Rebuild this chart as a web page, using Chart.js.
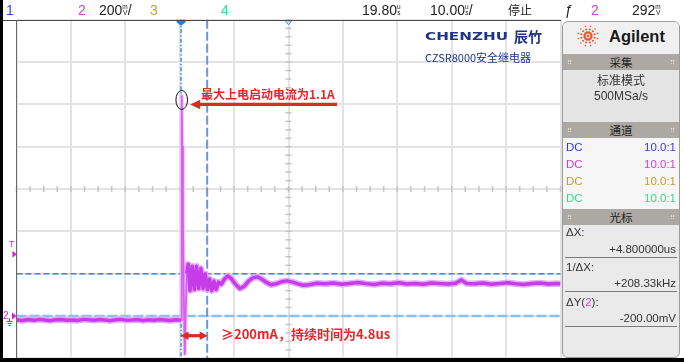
<!DOCTYPE html>
<html><head><meta charset="utf-8">
<script src="https://cdn.jsdelivr.net/npm/chart.js@4.4.1/dist/chart.umd.min.js"></script>
<style>
html,body{margin:0;padding:0;width:684px;height:362px;overflow:hidden;background:#fff;}
body{font-family:"Liberation Sans",Arial,sans-serif;position:relative;}
#c{position:absolute;left:0;top:0;z-index:1;}
.ov{position:absolute;z-index:2;white-space:nowrap;}
#bar span{position:absolute;top:2px;font-size:14px;line-height:16px;color:#222;}
#bar i{display:inline-block;font-style:normal;font-size:6.5px;line-height:6px;text-align:center;vertical-align:top;margin-top:2px;}
.cjk{font-family:"Noto Sans CJK SC",sans-serif;}
#panel{position:absolute;left:562px;top:21px;width:118px;height:337px;box-sizing:border-box;border:1px solid #9c9c9c;border-radius:6px;background:#eaeaea;z-index:2;overflow:hidden;}
#panel div{position:absolute;white-space:nowrap;}
.hdr{left:0;width:116px;height:16px;background:#aca8a4;text-align:center;font-size:11.5px;line-height:16px;color:#222;font-family:"Noto Sans CJK SC",sans-serif;}
.grip{position:absolute;top:0;font-size:7px;color:#e0ddd9;line-height:16px;}
.t{font-size:11.5px;line-height:14px;color:#333;}
.r{right:3px;text-align:right;}
.sep{left:2px;width:112px;height:0;border-top:1.5px solid #7a7a7a;}
</style></head>
<body>
<canvas id="c" width="684" height="362"></canvas>

<!-- outer frame -->
<div class="ov" style="left:0;top:0;width:3px;height:362px;background:#000;"></div>
<div class="ov" style="left:0;top:358px;width:684px;height:4px;background:#000;"></div>
<div class="ov" style="left:3px;top:19.5px;width:558px;height:1.5px;background:#4a4a4a;"></div>
<div class="ov" style="left:15.8px;top:20px;width:1.5px;height:338px;background:#6a6a6a;"></div>

<!-- status bar -->
<div id="bar" class="ov" style="left:0;top:0;width:684px;height:19px;">
 <span style="left:6px;color:#3c3cff">1</span>
 <span style="left:78px;color:#d83ae0">2</span>
 <span style="left:99px">200<i>m<br>V</i>/</span>
 <span style="left:150px;color:#c9a23c">3</span>
 <span style="left:221px;color:#36dc8a">4</span>
 <span style="left:362px">19.80<i>u<br>s</i></span>
 <span style="left:430px">10.00<i>u<br>s</i>/</span>
 <span class="cjk" style="left:508px;font-size:12px">停止</span>
 <span style="left:565px">ƒ</span>
 <span style="left:591px;color:#d83ae0">2</span>
 <span style="left:632px">292<i>m<br>V</i></span>
</div>

<!-- left channel markers -->
<div class="ov" style="left:9px;top:239px;font-size:9px;line-height:10px;color:#d21ed2;">T</div>
<div class="ov" style="left:3px;top:310px;font-size:10px;line-height:12px;color:#d21ed2;">2</div>

<!-- logo -->
<div class="ov" style="left:425px;top:30px;font-size:11px;line-height:13px;font-weight:bold;color:#1d3588;font-family:'DejaVu Sans',sans-serif;"><span style="display:inline-block;transform:scaleX(1.38);transform-origin:left;">CHENZHU</span></div>
<div class="ov cjk" style="left:514px;top:28px;font-size:14px;line-height:16px;font-weight:bold;color:#1d3588;">辰竹</div>
<div class="ov cjk" style="left:425px;top:50px;font-size:11px;line-height:14px;color:#1d3588;">CZSR8000安全继电器</div>

<!-- annotations -->
<div class="ov cjk" style="left:201px;top:86px;font-size:12px;line-height:16px;font-weight:bold;color:#e8262a;">最大上电启动电流为1.1A</div>
<div class="ov cjk" style="left:221px;top:326px;font-size:13px;line-height:16px;font-weight:bold;color:#e8262a;">≥200mA，持续时间为4.8us</div>

<!-- right panel -->
<div id="panel">
 <div style="left:0;top:0;width:116px;height:32px;background:#f0f0f0;"></div>
 <div style="left:13px;top:2px;"><svg id="spark" width="24" height="24" viewBox="-12 -12 24 24"></svg></div>
 <div style="left:46px;top:4px;font-size:16.5px;line-height:20px;font-weight:bold;color:#1a1a1a;">Agilent</div>
 <div class="hdr" style="top:32px;"><span class="grip" style="left:4px">⠿</span>采集<span class="grip" style="right:4px">⠿</span></div>
 <div style="left:0;top:48px;width:116px;height:52px;background:#e4e4e4;"></div>
 <div class="t cjk" style="left:0;width:116px;text-align:center;top:51px;font-size:12px;">标准模式</div>
 <div class="t" style="left:0;width:116px;text-align:center;top:67px;font-size:12px;">500MSa/s</div>
 <div class="hdr" style="top:100px;"><span class="grip" style="left:4px">⠿</span>通道<span class="grip" style="right:4px">⠿</span></div>
 <div style="left:0;top:116px;width:116px;height:71px;background:#f6f6f6;"></div>
 <div class="t" style="left:3px;top:118px;color:#3535ff">DC</div><div class="t r" style="top:118px;color:#3535ff">10.0:1</div>
 <div class="t" style="left:3px;top:135px;color:#d83ae0">DC</div><div class="t r" style="top:135px;color:#d83ae0">10.0:1</div>
 <div class="t" style="left:3px;top:152px;color:#c29d38">DC</div><div class="t r" style="top:152px;color:#c29d38">10.0:1</div>
 <div class="t" style="left:3px;top:169px;color:#34dc88">DC</div><div class="t r" style="top:169px;color:#34dc88">10.0:1</div>
 <div class="hdr" style="top:187px;"><span class="grip" style="left:4px">⠿</span>光标<span class="grip" style="right:4px">⠿</span></div>
 <div class="t" style="left:3px;top:203px;">ΔX:</div>
 <div class="t r" style="top:220px;">+4.800000us</div>
 <div class="sep" style="top:235px;"></div>
 <div class="t" style="left:3px;top:238px;">1/ΔX:</div>
 <div class="t r" style="top:254px;">+208.33kHz</div>
 <div class="sep" style="top:269px;"></div>
 <div class="t" style="left:3px;top:273px;">ΔY(<span style="color:#d83ae0">2</span>):</div>
 <div class="t r" style="top:289px;">-200.00mV</div>
 <div class="sep" style="top:304px;"></div>
</div>

<script>
// ---- scope settings (horizontal 10 us/div, channel 2 at 200 mV/div) ----
const X_MIN = -30.25, X_MAX = 69.75, X_DIV = 10;      // microseconds
const Y_MIN = -0.2, Y_MAX = 1.4, Y_DIV = 0.2;         // volts
const CURSOR_X1 = 0, CURSOR_X2 = 4.8;                 // us  (ΔX = 4.8 us)
const CURSOR_Y1 = 0.2, CURSOR_Y2 = 0.0;               // V   (ΔY = -200 mV)
const TRIG_LEVEL = 0.292;                             // V
const PEAK_T = 0.12, PEAK_V = 1.04, ARROW_V = 1.0;
const SPIKE_END = 1.1;

// ---- channel 2 trace ----
const timeUs = [
 -30.25,-29.2,-28.1,-27,-26,-25,-24,-23,-22,-21,-20,-19,-18,-17,-16,-15,-14,-13,-12,-11,-10,-9,-8,-7,-6,-5,-4,-3,-2,-1,-0.3,
 0,0.12,0.22,0.35,0.5,0.68,0.85,1.05,
 1.3,1.65,2.05,2.45,2.85,3.25,3.65,4.05,4.45,4.85,5.25,5.65,6.05,6.45,6.9,7.4,8.0,8.6,9.3,10.0,10.8,11.6,12.4,13.2,14.0,14.8,15.6,16.5,17.5,18.5,19.5,20.5,21.5,22.5,23.5,25,
 26.5,28,29.5,31,32.5,34,35.5,37,38.5,40,41.5,43,44.5,46,47.5,49,50.5,51.5,52.5,54,55.5,57,58.5,60,61.5,63,64.5,66,67.5,69,69.75
];
const ch2V = [
 -0.018,-0.021,-0.017,-0.020,-0.016,-0.019,-0.022,-0.018,-0.017,-0.020,-0.019,-0.021,-0.016,-0.018,-0.020,-0.017,-0.019,-0.022,-0.018,-0.016,-0.020,-0.019,-0.017,-0.021,-0.018,-0.020,-0.017,-0.019,-0.021,-0.018,-0.019,
 -0.02,1.04,0.80,0.45,0.10,-0.18,0.02,0.20,
 0.245,0.12,0.235,0.125,0.235,0.13,0.225,0.13,0.20,0.125,0.175,0.12,0.165,0.125,0.16,0.15,0.175,0.19,0.175,0.15,0.13,0.14,0.165,0.18,0.185,0.175,0.16,0.148,0.152,0.162,0.166,0.16,0.152,0.145,0.148,0.155,
 0.152,0.156,0.15,0.154,0.158,0.153,0.149,0.155,0.152,0.157,0.151,0.154,0.15,0.156,0.153,0.151,0.155,0.17,0.154,0.152,0.156,0.15,0.153,0.157,0.152,0.149,0.154,0.156,0.151,0.153,0.152
];

const points = timeUs.map((t, i) => ({x: t, y: ch2V[i]}));
const inSpike = c => c.p0.parsed.x >= 0 && c.p1.parsed.x <= SPIKE_END;

function seg(ctx, x1, y1, x2, y2) { ctx.beginPath(); ctx.moveTo(x1, y1); ctx.lineTo(x2, y2); ctx.stroke(); }
function head(ctx, tipX, y, dir, len, half) {
  ctx.beginPath(); ctx.moveTo(tipX, y); ctx.lineTo(tipX + dir*len, y - half); ctx.lineTo(tipX + dir*len, y + half); ctx.closePath(); ctx.fill();
}

const scopePlugin = {
  id: 'scope',
  beforeDatasetsDraw(chart) {
    const {ctx, chartArea: a, scales: {x, y}} = chart;
    ctx.save();
    const cx = x.getPixelForValue((X_MIN + X_MAX) / 2), cy = y.getPixelForValue((Y_MIN + Y_MAX) / 2);
    ctx.strokeStyle = '#c4c4c4'; ctx.lineWidth = 1.5;
    for (let i = 0; i <= 40; i++) { const px = x.getPixelForValue(X_MIN + i * X_DIV / 4); seg(ctx, px, cy - 3, px, cy + 3); }
    for (let i = 0; i <= 40; i++) { const py = y.getPixelForValue(Y_MIN + i * Y_DIV / 5); seg(ctx, cx - 3, py, cx + 3, py); }
    let py = y.getPixelForValue(CURSOR_Y1);
    ctx.strokeStyle = '#2b8cf5'; ctx.lineWidth = 1.5; ctx.setLineDash([6, 3]);
    seg(ctx, a.left, py, a.right, py);
    py = y.getPixelForValue(CURSOR_Y2);
    ctx.strokeStyle = '#8dbff2'; ctx.lineWidth = 2.5; ctx.setLineDash([10, 3]);
    seg(ctx, a.left, py, a.right, py);
    let px = x.getPixelForValue(CURSOR_X1);
    ctx.strokeStyle = '#3d8ee0'; ctx.lineWidth = 1.5; ctx.setLineDash([4, 2, 1.5, 2]);
    seg(ctx, px, a.top, px, a.bottom);
    px = x.getPixelForValue(CURSOR_X2);
    ctx.strokeStyle = '#6a98d0'; ctx.lineWidth = 2; ctx.setLineDash([9, 3]);
    seg(ctx, px, a.top, px, a.bottom);
    ctx.restore();
  },
  afterDatasetsDraw(chart) {
    const {ctx, chartArea: a, scales: {x, y}} = chart;
    ctx.save();
    const tx = x.getPixelForValue(CURSOR_X1);
    ctx.fillStyle = '#1f7fe6';
    ctx.beginPath(); ctx.moveTo(tx - 4.5, a.top); ctx.lineTo(tx + 4.5, a.top); ctx.lineTo(tx + 4.5, a.top + 2.5); ctx.lineTo(tx, a.top + 6); ctx.lineTo(tx - 4.5, a.top + 2.5); ctx.closePath(); ctx.fill();
    const rx = x.getPixelForValue((X_MIN + X_MAX) / 2);
    ctx.strokeStyle = '#3d8ee0'; ctx.lineWidth = 1;
    ctx.beginPath(); ctx.moveTo(rx - 3, a.top + 1); ctx.lineTo(rx + 3, a.top + 1); ctx.lineTo(rx, a.top + 5); ctx.closePath(); ctx.stroke();
    ctx.fillStyle = '#d21ed2';
    let ly = y.getPixelForValue(TRIG_LEVEL);
    ctx.beginPath(); ctx.moveTo(12.5, ly - 3.5); ctx.lineTo(16.5, ly); ctx.lineTo(12.5, ly + 3.5); ctx.closePath(); ctx.fill();
    ly = y.getPixelForValue(0);
    ctx.beginPath(); ctx.moveTo(12, ly - 3.5); ctx.lineTo(16.5, ly); ctx.lineTo(12, ly + 3.5); ctx.closePath(); ctx.fill();
    ctx.strokeStyle = '#d21ed2'; ctx.lineWidth = 1;
    seg(ctx, 9.5, ly + 2, 9.5, ly + 5); seg(ctx, 6.5, ly + 5.5, 12.5, ly + 5.5); seg(ctx, 7.5, ly + 7.5, 11.5, ly + 7.5); seg(ctx, 8.5, ly + 9.5, 10.5, ly + 9.5);
    const ex = x.getPixelForValue(PEAK_T), ey = y.getPixelForValue(PEAK_V) + 4;
    ctx.strokeStyle = '#111'; ctx.lineWidth = 1;
    ctx.beginPath(); ctx.ellipse(ex, ey, 5.8, 9.5, 0, 0, Math.PI * 2); ctx.stroke();
    const ay = y.getPixelForValue(ARROW_V);
    ctx.strokeStyle = '#dd2a22'; ctx.fillStyle = '#dd2a22'; ctx.lineWidth = 3.2;
    seg(ctx, ex + 16, ay, 337, ay);
    head(ctx, ex + 8.5, ay, 1, 10, 4.8);
    const x1 = x.getPixelForValue(CURSOR_X1), x2 = x.getPixelForValue(CURSOR_X2);
    const by = 335.7;
    seg(ctx, x1 + 6, by, x2 - 6, by);
    head(ctx, x1 - 0.5, by, 1, 8, 4.2);
    head(ctx, x2 + 0.5, by, -1, 8, 4.2);
    ctx.restore();
  }
};

new Chart(document.getElementById('c'), {
  type: 'line',
  data: {
    datasets: [
      // core trace (drawn on top)
      {data: points, borderColor: '#c63ce8', borderWidth: 3.5, pointRadius: 0, tension: 0, borderJoinStyle: 'round', order: 0,
       segment: {borderColor: c => inSpike(c) ? '#d660ef' : undefined, borderWidth: c => inSpike(c) ? 1.8 : undefined}},
      // light persistence halo (drawn underneath)
      {data: points, borderColor: '#e6aaf6', borderWidth: 6.5, pointRadius: 0, tension: 0, borderJoinStyle: 'round', order: 1,
       segment: {borderColor: c => inSpike(c) ? '#f3c6fa' : undefined, borderWidth: c => inSpike(c) ? 4 : undefined}}
    ]
  },
  options: {
    responsive: false, animation: false, devicePixelRatio: 1,
    layout: {padding: {left: 16.5, right: 123.5, top: 19.8, bottom: 3.7}},
    plugins: {legend: {display: false}, tooltip: {enabled: false}},
    scales: {
      x: {type: 'linear', min: X_MIN, max: X_MAX,
          afterBuildTicks: s => { s.ticks = Array.from({length: 11}, (_, i) => ({value: X_MIN + i * X_DIV})); },
          ticks: {display: false}, border: {display: false},
          grid: {color: '#e3e3e3', lineWidth: 2, drawTicks: false}},
      y: {type: 'linear', min: Y_MIN, max: Y_MAX,
          afterBuildTicks: s => { s.ticks = Array.from({length: 9}, (_, i) => ({value: Y_MIN + i * Y_DIV})); },
          ticks: {display: false}, border: {display: false},
          grid: {color: '#e3e3e3', lineWidth: 2, drawTicks: false}}
    }
  },
  plugins: [scopePlugin]
});

// Agilent spark logo
(function () {
  const svg = document.getElementById('spark');
  let s = '<circle cx="0" cy="0" r="1.3" fill="#e8552c"/>';
  for (let k = 0; k < 12; k++) {
    const ang = k * Math.PI / 6 + Math.PI / 12;
    [[3.5, 1.25], [6.8, 1.05], [10, 0.8]].forEach(([r, d]) => {
      s += `<circle cx="${(r * Math.cos(ang)).toFixed(2)}" cy="${(r * Math.sin(ang)).toFixed(2)}" r="${d}" fill="#e8552c"/>`;
    });
  }
  svg.innerHTML = s;
})();
</script>
</body></html>
